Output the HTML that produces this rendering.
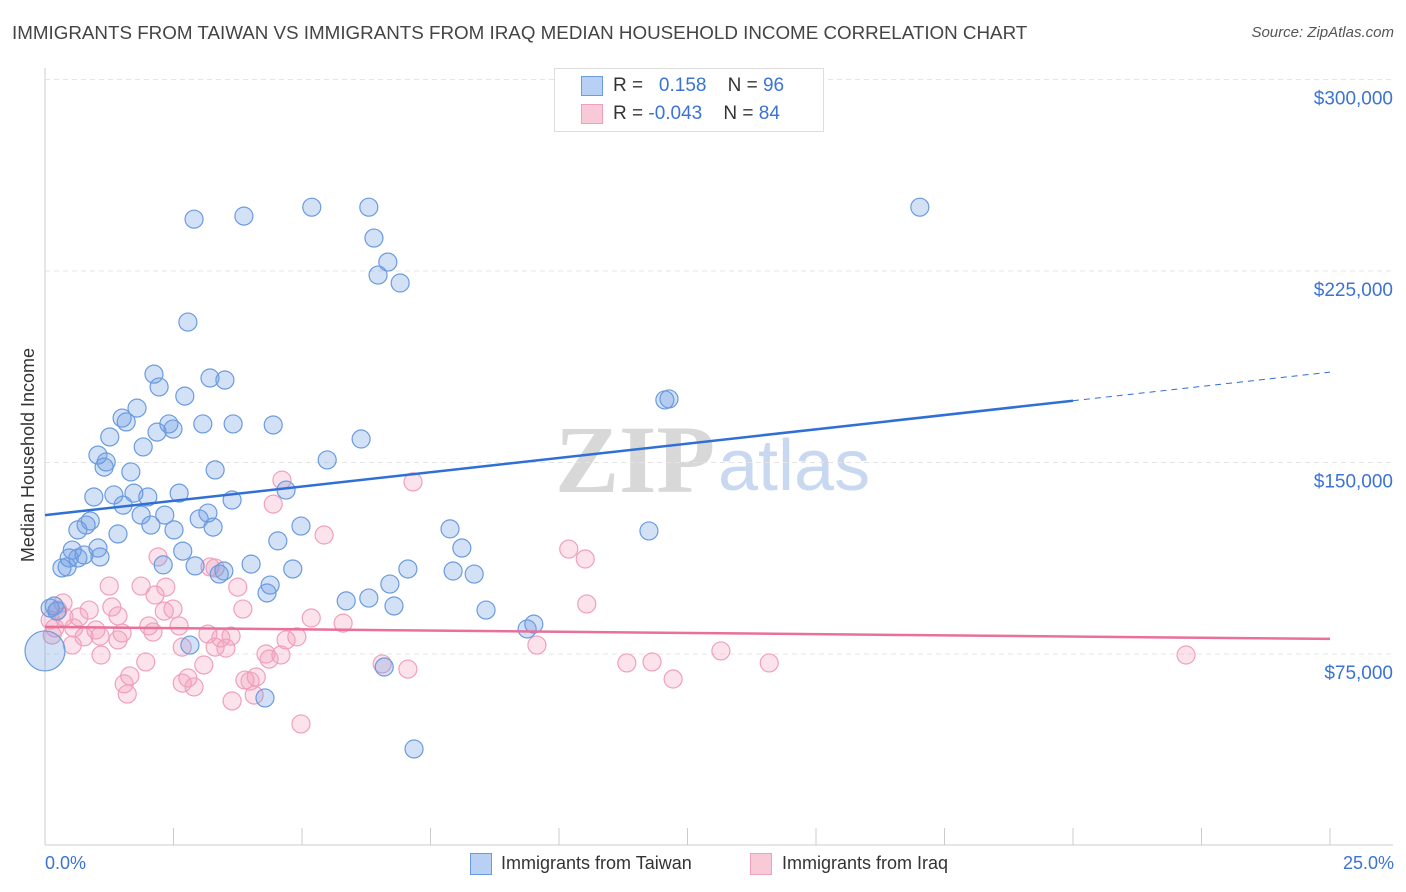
<!DOCTYPE html>
<html><head><meta charset="utf-8"><style>
body{margin:0;background:#fff;font-family:"Liberation Sans",sans-serif;}
#wrap{position:relative;width:1406px;height:892px;overflow:hidden;}
.t{position:absolute;white-space:nowrap;}
</style></head><body><div id="wrap">
<div class="t" style="left:12px;top:22px;font-size:18.8px;color:#444">IMMIGRANTS FROM TAIWAN VS IMMIGRANTS FROM IRAQ MEDIAN HOUSEHOLD INCOME CORRELATION CHART</div>
<div class="t" style="right:12px;top:24px;font-size:15px;color:#555;font-style:italic">Source: ZipAtlas.com</div>
<svg id="svg" width="1406" height="892" style="position:absolute;left:0;top:0">
<text x="555" y="492" font-family="Liberation Serif,serif" font-size="96" font-weight="bold" fill="#d8d8d8">ZIP</text>
<text x="718" y="490" font-family="Liberation Sans,sans-serif" font-size="72" fill="#c8d8f0">atlas</text>
<g id="grid"></g><g id="pts"></g><g id="trend"></g>
<text transform="translate(34,455) rotate(-90)" text-anchor="middle" font-size="18" fill="#333">Median Household Income</text>
</svg>
<div style="position:absolute;left:554px;top:68px;width:268px;height:62px;border:1px solid #ddd;background:#fff">
 <div style="position:absolute;left:26px;top:7px;width:20px;height:18px;background:#b8d0f4;border:1px solid #6a9be0"></div>
 <div class="t" style="left:58px;top:6px;font-size:19px;color:#333">R = <span style="color:#3b73d4">&nbsp;&nbsp;0.158</span>&nbsp;&nbsp;&nbsp; N = <span style="color:#3b73d4">96</span></div>
 <div style="position:absolute;left:26px;top:35px;width:20px;height:18px;background:#f8cad8;border:1px solid #f0a0bb"></div>
 <div class="t" style="left:58px;top:34px;font-size:19px;color:#333">R = <span style="color:#3b73d4">-0.043</span>&nbsp;&nbsp;&nbsp; N = <span style="color:#3b73d4">84</span></div>
</div>
<div style="position:absolute;left:470px;top:853px;width:20px;height:20px;background:#b8d0f4;border:1px solid #6a9be0"></div>
<div class="t" style="left:501px;top:853px;font-size:18px;color:#333">Immigrants from Taiwan</div>
<div style="position:absolute;left:750px;top:853px;width:20px;height:20px;background:#f8cad8;border:1px solid #f0a0bb"></div>
<div class="t" style="left:782px;top:853px;font-size:18px;color:#333">Immigrants from Iraq</div>
<div class="t" style="left:45px;top:853px;font-size:18px;color:#3b73d4">0.0%</div>
<div class="t" style="right:12px;top:853px;font-size:18px;color:#3b73d4">25.0%</div>
</div>
<script>
const yTicks=[75000,150000,225000,300000];
const yTickLabels=["$75,000","$150,000","$225,000","$300,000"];
const taiwanX=[2.90,3.87,5.19,6.30,17.02,6.40,6.67,6.48,6.91,2.78,2.12,3.21,3.50,2.22,2.72,1.79,1.50,1.58,2.41,2.49,3.07,3.66,4.44,2.18,1.26,6.15,1.91,1.03,1.15,1.19,5.49,1.67,3.31,12.06,12.14,4.69,2.61,0.95,1.34,1.73,2.00,3.64,1.52,1.87,2.33,3.17,3.00,0.88,0.80,0.64,1.42,2.06,2.51,3.27,4.98,7.88,11.75,4.53,1.03,0.53,0.76,2.68,8.11,0.64,1.07,0.47,4.01,0.33,0.43,2.30,2.92,3.48,3.39,4.82,7.06,7.94,8.35,4.38,6.71,4.32,5.86,6.30,6.79,8.58,0.18,0.23,0.10,9.51,9.38,2.82,6.60,4.28,7.18,0.0];
const taiwanY=[245.3,246.5,250,250,250,237.9,228.5,223.4,220.3,205,184.6,183.1,182.3,179.6,176,171.3,167.4,165.9,165.1,163.1,165.1,165.1,164.7,161.9,160,159.2,156.1,152.9,148.2,150.2,151,146.3,147.1,174.5,174.9,139.2,138,136.5,137.3,138,136.5,135.3,133.3,129.4,129.4,130.2,127.9,127.1,125.5,123.6,122,125.5,123.6,124.7,125.1,124,123.2,119.3,116.5,115.7,113.8,115.3,116.5,112.6,113,112.6,110.2,108.7,109.1,109.9,109.5,107.5,106.3,108.3,108.3,107.5,106.3,102,102.4,98.9,95.8,96.9,93.8,92.2,93.8,91.8,93,86.7,84.8,78.5,69.9,57.8,37.8,76.2];
const iraqX=[4.61,7.16,4.44,5.43,10.19,10.51,2.20,3.21,1.25,1.87,2.35,3.75,2.14,0.35,0.86,1.30,2.49,2.32,3.85,10.54,1.42,0.37,0.66,5.18,5.80,2.02,2.61,0.56,0.99,1.50,2.10,3.17,3.62,0.76,1.07,1.42,3.42,4.69,4.90,0.53,3.31,2.67,3.52,9.57,13.15,1.09,4.59,4.36,4.30,1.96,3.09,6.56,7.06,11.32,11.81,14.09,22.20,1.65,2.78,3.89,4.11,1.54,3.99,2.67,2.90,12.22,1.60,4.07,3.64,4.98,0.10,0.19,0.25,0.14,3.31];
const iraqY=[143.1,142.4,133.7,121.6,116.1,112.2,113,109.1,101.6,101.6,101.2,101.2,98.1,95,92.2,93.4,92.6,91.8,92.6,94.6,89.9,89.5,89.5,89.1,87.1,86,86,85.2,84.4,83.2,83.6,82.8,82,81.7,82,80.5,81.3,80.5,81.7,78.5,77.7,77.7,77.3,78.5,76.2,74.6,74.6,73,75,71.9,70.7,71.1,69.1,71.5,71.9,71.5,74.6,66.4,65.6,64.8,66,63.3,64.4,63.6,62.1,65.2,59.3,58.9,56.6,47.6,88.3,85.2,92.2,82.4,108.7];
const taiwanTrend=[129.4,185.4];
const iraqTrend=[85.6,80.9];
const NS="http://www.w3.org/2000/svg";
const X0=45,X1=1330;
function sx(p){return X0+(X1-X0)*p/25;}
function sy(k){return 654-(k-75)*191.5/75;}
function mk(t,a,parent){const e=document.createElementNS(NS,t);for(const k in a)e.setAttribute(k,a[k]);parent.appendChild(e);return e;}
const grid=document.getElementById('grid');
let ax=mk('line',{x1:45,y1:68,x2:45,y2:845,stroke:'#ccc'},grid);


let bx=mk('line',{x1:45,y1:845,x2:1393,y2:845,stroke:'#ccc'},grid);


for(let i=0;i<=10;i++){const x=sx(i*2.5);const tk=mk('line',{x1:x,y1:828,x2:x,y2:845,stroke:'#ccc'},grid);

}
yTicks.forEach((v,i)=>{const y=sy(v/1000);
const g=mk('line',{x1:45,y1:y,x2:1393,y2:y,stroke:'#e4e4e4','stroke-dasharray':'5,4'},grid);


const t=mk('text',{x:1393,y:y+25,'text-anchor':'end','font-size':19,fill:'#3b73d4'},grid);t.textContent=yTickLabels[i];

});
const pts=document.getElementById('pts');
iraqX.forEach((x,i)=>{const c=mk('circle',{cx:sx(x),cy:sy(iraqY[i]),r:9,fill:'rgba(243,160,188,0.3)',stroke:'#f0a0bb','stroke-width':1.2},pts);

});
taiwanX.forEach((x,i)=>{const c=mk('circle',{cx:sx(x),cy:sy(taiwanY[i]),r:(i==taiwanX.length-1?20:9),fill:'rgba(110,155,225,0.3)',stroke:'#6a9be0','stroke-width':1.2},pts);

});
const tr=document.getElementById('trend');
const bAt=p=>taiwanTrend[0]+(taiwanTrend[1]-taiwanTrend[0])*p/25;
let l1=mk('line',{x1:sx(0),y1:sy(bAt(0)),x2:sx(20),y2:sy(bAt(20)),stroke:'#2f6fd6','stroke-width':2.5},tr);


let l2=mk('line',{x1:sx(20),y1:sy(bAt(20)),x2:sx(25),y2:sy(bAt(25)),stroke:'#2f6fd6','stroke-width':1,'stroke-dasharray':'6,5'},tr);


let l3=mk('line',{x1:sx(0),y1:sy(iraqTrend[0]),x2:sx(25),y2:sy(iraqTrend[1]),stroke:'#e8709a','stroke-width':2.5},tr);


</script></body></html>
